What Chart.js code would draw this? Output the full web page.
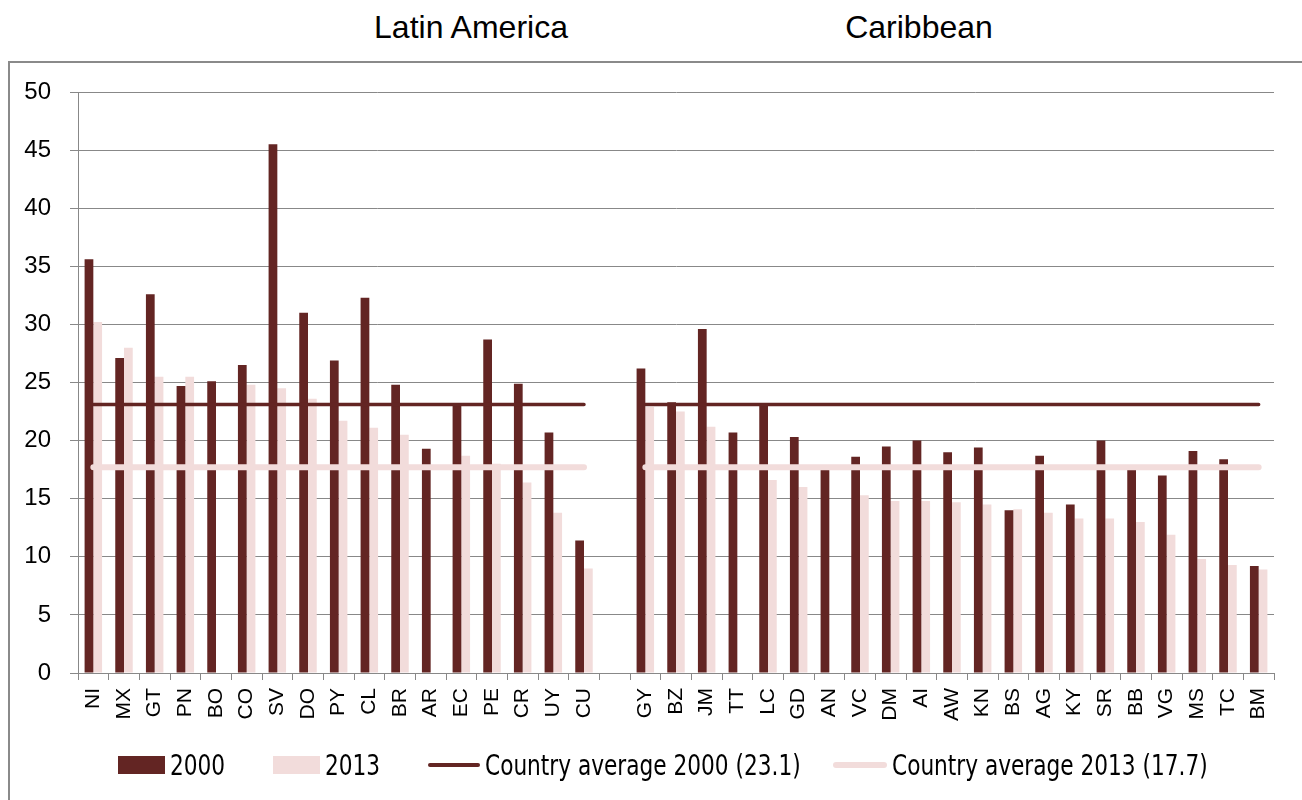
<!DOCTYPE html>
<html>
<head>
<meta charset="utf-8">
<script src="https://cdn.jsdelivr.net/npm/chart.js@4.4.1/dist/chart.umd.min.js"></script>
<style>
  body { margin: 0; background: #fff; width: 1302px; height: 800px; overflow: hidden; position: relative;
         font-family: "Liberation Sans", Arial, sans-serif; }
  #frame { position: absolute; left: 8px; top: 61px; width: 1400px; height: 800px; border: 2px solid #8a8a8a; }
  .region { position: absolute; top: 8px; line-height: 38px; font-size: 32px; transform: translateX(-50%); white-space: nowrap; color: #000; }
  #wrap { position: absolute; left: 0; top: 0; width: 1302px; height: 800px; }
  .item { position: absolute; top: 750px; height: 30px; display: flex; align-items: center;
          font-family: "Liberation Sans Narrow", "DejaVu Sans Condensed", sans-serif; font-size: 28px; color: #000; white-space: nowrap; }
  .item .t { display: inline-block; transform: scaleX(0.86); transform-origin: left center; }
  .box { width: 47px; height: 18px; margin-right: 5px; }
  .ln { margin-right: 5px; border-radius: 3px; }
</style>
</head>
<body>
<div id="frame"></div>
<div class="region" style="left:471px">Latin America</div>
<div class="region" style="left:919px">Caribbean</div>
<div id="wrap"><canvas id="chart"></canvas></div>
<div class="item" style="left:118px"><span class="box" style="background:#632523"></span><span class="t">2000</span></div>
<div class="item" style="left:273px"><span class="box" style="background:#F2DCDB"></span><span class="t">2013</span></div>
<div class="item" style="left:428px"><span class="ln" style="width:52px;height:4px;background:#632523"></span><span class="t">Country average 2000 (23.1)</span></div>
<div class="item" style="left:833px"><span class="ln" style="width:54px;height:6px;background:#F2DCDB"></span><span class="t">Country average 2013 (17.7)</span></div>
<script>
// country codes, '' is the spacer between the two regions
const categories = ['NI','MX','GT','PN','BO','CO','SV','DO','PY','CL','BR','AR','EC','PE','CR','UY','CU',
  '',
  'GY','BZ','JM','TT','LC','GD','AN','VC','DM','AI','AW','KN','BS','AG','KY','SR','BB','VG','MS','TC','BM'];

const values2000 = [35.6, 27.1, 32.6, 24.7, 25.1, 26.5, 45.5, 31.0, 26.9, 32.3, 24.8, 19.3, 23.1, 28.7, 24.9, 20.7, 11.4,
  null,
  26.2, 23.3, 29.6, 20.7, 23.2, 20.3, 17.5, 18.6, 19.5, 20.0, 19.0, 19.4, 14.0, 18.7, 14.5, 20.0, 17.5, 17.0, 19.1, 18.4, 9.2];

const values2013 = [30.2, 28.0, 25.5, 25.5, null, 24.8, 24.5, 23.6, 21.7, 21.1, 20.5, null, 18.7, 18.0, 16.4, 13.8, 9.0,
  null,
  22.9, 22.5, 21.2, null, 16.6, 16.0, null, 15.3, 14.8, 14.8, 14.7, 14.5, 14.1, 13.8, 13.3, 13.3, 13.0, 11.9, 9.8, 9.3, 8.9];

const avg2000 = 23.1;
const avg2013 = 17.7;

const dark = '#632523';
const pink = '#F2DCDB';
const gridColor = '#888888';

const chart = new Chart(document.getElementById('chart'), {
  type: 'bar',
  data: {
    labels: categories,
    datasets: [{
      type: 'line',
      label: 'Country average 2000 (23.1)',
      data: categories.map(c => c ? avg2000 : null),
      borderColor: dark,
      backgroundColor: dark,
      borderWidth: 3.5,
      borderCapStyle: 'round',
      pointRadius: 0,
      spanGaps: false,
      order: 0
    }, {
      type: 'line',
      label: 'Country average 2013 (17.7)',
      data: categories.map(c => c ? avg2013 : null),
      borderColor: pink,
      backgroundColor: pink,
      borderWidth: 6,
      borderCapStyle: 'round',
      pointRadius: 0,
      spanGaps: false,
      order: 0
    }, {
      label: '2000',
      data: values2000,
      backgroundColor: dark,
      barPercentage: 1,
      categoryPercentage: 0.57,
      order: 1
    }, {
      label: '2013',
      data: values2013,
      backgroundColor: pink,
      barPercentage: 1,
      categoryPercentage: 0.57,
      order: 1
    }]
  },
  options: {
    responsive: true,
    maintainAspectRatio: false,
    animation: false,
    events: [],
    layout: { padding: { left: 0, top: 92, right: 28, bottom: 0 } },
    plugins: {
      legend: { display: false },
      tooltip: { enabled: false }
    },
    scales: {
      x: {
        offset: true,
        grid: { display: true, drawOnChartArea: false, drawTicks: true, tickLength: 7, color: gridColor, offset: true },
        border: { color: gridColor, width: 1 },
        ticks: {
          autoSkip: false, minRotation: 90, maxRotation: 90, padding: 8, color: '#000',
          font: { family: 'Liberation Sans', size: 21 }
        },
        afterFit: function(s) { s.height = 127; s.paddingLeft = 0; s.paddingRight = 0; }
      },
      y: {
        min: 0,
        max: 50,
        ticks: { stepSize: 5, padding: 19, color: '#000', font: { family: 'Liberation Sans', size: 24 } },
        grid: { color: gridColor, tickLength: 8 },
        border: { color: gridColor, width: 1 },
        afterFit: function(s) { s.width = 78; s.paddingTop = 0; s.paddingBottom = 0; }
      }
    }
  }
});
</script>
</body>
</html>
